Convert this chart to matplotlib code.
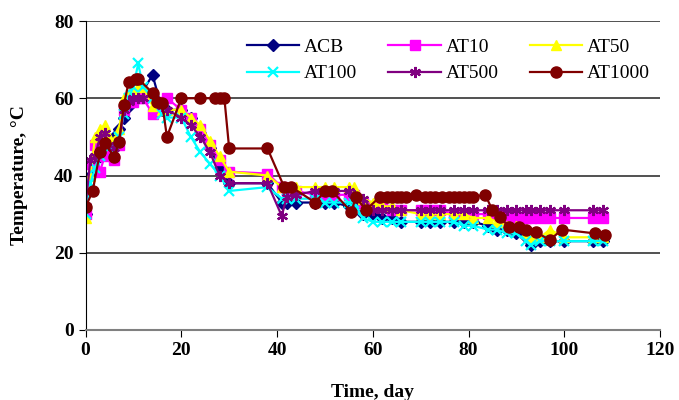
import matplotlib
matplotlib.use("Agg")
from matplotlib import pyplot as plt

plt.rcParams['font.family'] = 'Liberation Serif'

# sampling days shared by the first five treatments
days = [0, 1, 2, 3, 4, 5, 6, 7, 8, 9, 10, 11, 12, 14, 16, 17, 20, 22, 24, 26,
        28, 30, 38, 41, 42, 44, 48, 50, 52, 55, 56, 58, 60, 62, 64, 66, 70, 72,
        74, 77, 79, 81, 84, 86, 88, 90, 92, 93, 95, 97, 100, 106, 108]

acb = [30, 40, 44, 45, 46, 47, 50, 52, 55, 58, 60, 61, 62, 66, 57, 57, 57, 55, 51, 47,
       42, 38, 38, 33, 33, 33, 33, 33, 33, 32, 32, 30, 30, 29, 29, 28, 28, 28,
       28, 28, 28, 28, 27, 26, 26, 25, 24, 22, 23, 23, 23, 23, 23]
at10 = [30, 43, 48, 41, 45, 47, 44, 48, 57, 59, 59, 60, 60, 56, 59, 60, 57, 55, 52, 48,
        44, 41, 40.5, 37, 36, 36, 35, 35, 35, 35, 35, 33, 32, 32, 31, 31, 31, 31,
        31, 30, 30, 30, 30, 30, 29, 29, 29, 29, 29, 29, 29, 29, 29]
at50 = [29, 40, 50, 52, 53, 50, 49, 52, 60, 61, 62, 63, 63, 58, 57, 57, 57, 55, 53, 49,
        45, 41, 40, 37, 37, 37, 37, 37, 37, 37, 37, 34, 33, 32, 32, 31, 30, 30,
        30, 30, 30, 29, 29, 28, 27, 27, 25, 24, 24, 26, 24, 24, 24]
at100 = [30, 38, 42, 45, 48, 47, 46, 50, 56, 60, 63, 69, 63, 60, 56, 55, 55, 50, 46, 43,
         40, 36, 37, 34, 34, 34, 34, 33, 33, 33, 33, 29, 28, 28, 28, 28, 28, 28,
         28, 28, 27, 27, 26, 26, 25, 25, 23, 22, 23, 23, 23, 23, 23]
at500 = [32, 44, 45, 50, 51, 48, 47, 49, 57, 59, 60, 60, 60, 61, 58, 57, 55, 53, 50, 46,
         40, 38, 38, 29.5, 34.5, 35, 36, 36, 36, 36, 35, 34, 31, 31, 31, 31, 31, 31,
         31, 31, 31, 31, 31, 31, 31, 31, 31, 31, 31, 31, 31, 31, 31]

days_1000 = [0, 1.5, 3, 4, 6, 7, 8, 9, 10.5, 11, 14, 15, 16, 17, 20, 24, 27, 28, 29, 30,
             38, 41.5, 43, 48, 50, 51.5, 55.5, 56.5, 58.5, 61.5, 63, 64, 65, 66, 67, 69,
             71, 72, 73, 74.5, 76, 77, 78, 79, 80, 81, 83.5, 85, 86.5, 88.5, 90.5, 92,
             94, 97, 99.5, 106.5, 108.5]
at1000 = [31.8, 36, 46, 48.4, 44.8, 48.7, 58.2, 64.2, 65, 65, 61.4, 59, 58.7, 50, 60, 60,
          60, 60, 60, 47, 47, 37, 37, 33, 36, 36, 30.6, 34.5, 31, 34.5, 34.5, 34.5,
          34.5, 34.5, 34.5, 35, 34.5, 34.5, 34.5, 34.5, 34.5, 34.5, 34.5, 34.5, 34.5,
          34.5, 35, 31, 29.3, 26.7, 26.7, 26, 25.4, 23.3, 26, 25, 24.6]

fig = plt.figure(figsize=(6.79, 4.0), dpi=100)
ax = fig.add_axes([0.126, 0.175, 0.846, 0.7725])

h_acb, = ax.plot(days, acb, color='#000080', marker='D', ms=6, lw=1.6, label='ACB')
h_10, = ax.plot(days, at10, color='#FF00FF', marker='s', ms=7, lw=1.6, label='AT10')
h_50, = ax.plot(days, at50, color='#FFFF00', marker='^', ms=7, lw=1.6, label='AT50')
h_100, = ax.plot(days, at100, color='#00FFFF', marker='x', ms=7, mew=1.6, lw=1.6,
                 label='AT100')
h_500, = ax.plot(days, at500, color='#800080', marker=(6, 2, 0), ms=8, mew=1.6, lw=1.6,
                 label='AT500')
h_1000, = ax.plot(days_1000, at1000, color='#800000', marker='o', ms=8, lw=1.6,
                  label='AT1000')

ax.set_xlim(0, 120)
ax.set_ylim(0, 80)
ax.set_xticks(range(0, 121, 20))
ax.set_yticks(range(0, 81, 20))
ax.yaxis.grid(True, color='#333333', lw=1.2)
ax.set_axisbelow(True)
for s in ['top', 'right']:
    ax.spines[s].set_visible(False)
ax.spines['left'].set_color('black')
ax.spines['bottom'].set_color('#808080')
ax.spines['bottom'].set_linewidth(1.5)
ax.tick_params(labelsize=14, length=5)
for t in ax.get_xticklabels() + ax.get_yticklabels():
    t.set_fontweight('bold')

ax.set_xlabel('Time, day', fontsize=14, fontweight='bold', labelpad=18)
ax.set_ylabel('Temperature, \u00b0C', fontsize=14, fontweight='bold', labelpad=19)

# legend fills row by row: ACB AT10 AT50 / AT100 AT500 AT1000
handles = [h_acb, h_100, h_10, h_500, h_50, h_1000]
ax.legend(handles=handles, labels=[h.get_label() for h in handles],
          loc='upper left', bbox_to_anchor=(0.25, 1.0), ncol=3, frameon=False,
          fontsize=14, handlelength=2.7, columnspacing=1.6, handletextpad=0.25,
          labelspacing=0.45)

fig.savefig('out.png', dpi=100)
